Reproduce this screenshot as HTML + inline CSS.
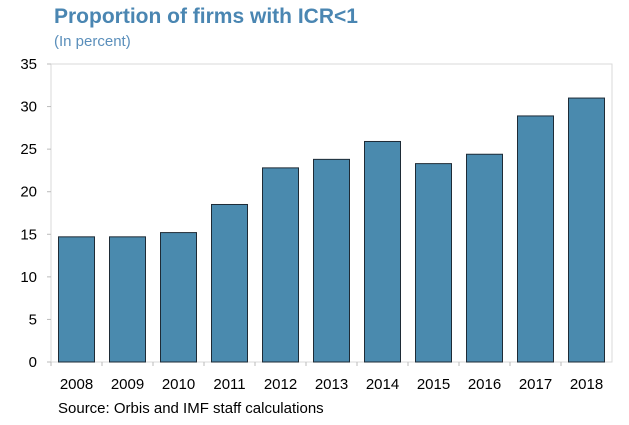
<!DOCTYPE html>
<html><head><meta charset="utf-8"><style>
body{margin:0;background:#fff;font-family:"Liberation Sans",sans-serif}
</style></head><body>
<svg width="629" height="425" style="display:block">
<text x="54" y="23" font-size="21" font-weight="bold" fill="#4a86b2">Proportion of firms with ICR&lt;1</text>
<text x="54" y="46" font-size="15" fill="#5b8fbb">(In percent)</text>
<g id="plot"></g>
<text x="58" y="413" font-size="15" fill="#000">Source: Orbis and IMF staff calculations</text>
</svg>
<script>
const categories=["2008","2009","2010","2011","2012","2013","2014","2015","2016","2017","2018"];
const values=[14.7,14.7,15.2,18.5,22.8,23.8,25.9,23.3,24.4,28.9,31.0];
const yTicks=[0,5,10,15,20,25,30,35];
const L=51,R=612,T=64,B=362,ymax=35;
const ns="http://www.w3.org/2000/svg";
const g=document.getElementById('plot');
const y=v=>B-(v/ymax)*(B-T);
const bw=(R-L)/categories.length;
const x=i=>L+bw*i;
function mk(t,a){const e=document.createElementNS(ns,t);for(const k in a)e.setAttribute(k,a[k]);g.appendChild(e);return e;}
const frame=mk('rect',{x:L,y:T,width:R-L,height:B-T,fill:'none',stroke:'#d9d9d9'});


yTicks.forEach(v=>{
  const tk=mk('line',{x1:L-4,x2:L,y1:y(v),y2:y(v),stroke:'#bbb'});
  
  
  const t=mk('text',{x:L-14,y:y(v)+5,'font-size':15,'text-anchor':'end',fill:'#000'});
  t.textContent=v;
  
  
});
categories.forEach((c,i)=>{
  const r=mk('rect',{x:x(i)+7.5,y:y(values[i]),width:bw-15,height:B-y(values[i]),fill:'#4a8aae',stroke:'#1e2b36','stroke-width':1});
  
  
  const tk=mk('line',{x1:x(i),x2:x(i),y1:B,y2:B+4,stroke:'#bbb'});
  
  
  const t=mk('text',{x:x(i)+bw/2,y:B+27,'font-size':15,'text-anchor':'middle',fill:'#000'});
  t.textContent=c;
  
  
});
</script>
</body></html>
